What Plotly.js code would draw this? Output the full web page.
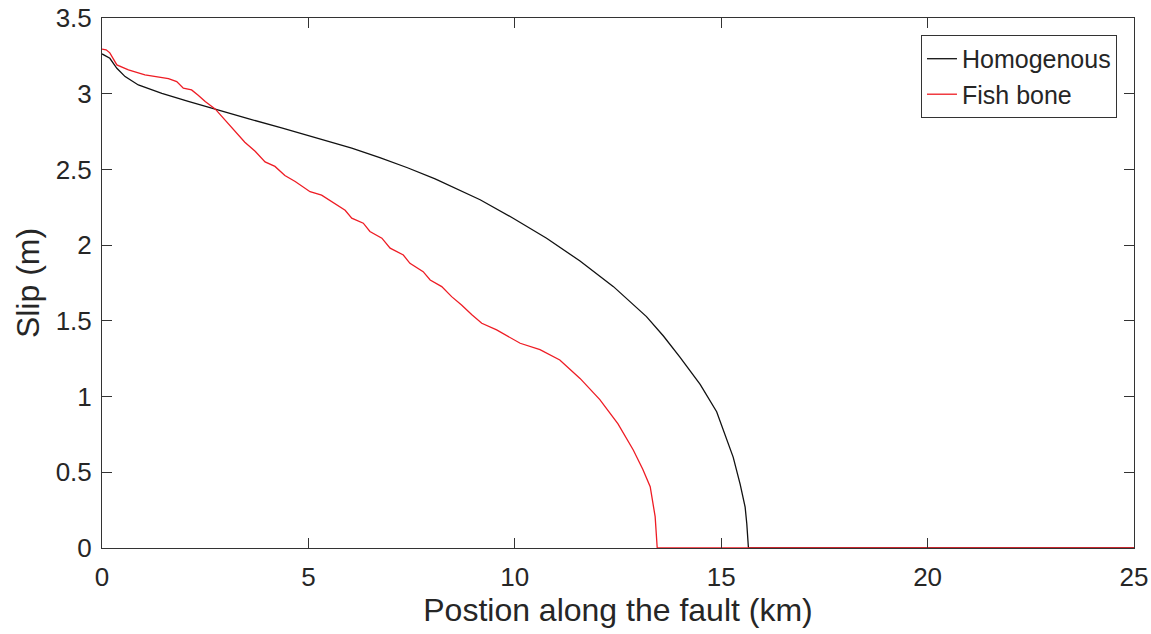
<!DOCTYPE html>
<html>
<head>
<meta charset="utf-8">
<script src="https://cdn.plot.ly/plotly-3.0.1.min.js"></script>
<style>html,body{margin:0;padding:0;background:#fff;}#chart{width:1151px;height:634px;}</style>
</head>
<body>
<div id="chart"></div>
<script>
// Homogenous fault slip
var homX = [0, 0.19, 0.36, 0.56, 0.88, 1.45, 2.09, 2.8, 3.54, 4.35, 5.16, 6.05, 6.73, 7.4, 8.07, 8.7, 9.16, 9.96, 10.77, 11.58, 12.39, 13.19, 13.6, 14.0, 14.49, 14.89, 15.29, 15.46, 15.58, 15.62, 15.66, 25];
var homY = [3.263, 3.234, 3.168, 3.113, 3.058, 3.003, 2.950, 2.893, 2.835, 2.775, 2.713, 2.641, 2.578, 2.511, 2.437, 2.36, 2.30, 2.178, 2.046, 1.895, 1.726, 1.528, 1.40, 1.26, 1.08, 0.90, 0.60, 0.42, 0.27, 0.16, 0, 0];
// Fish bone fault slip
var fishX = [0, 0.1, 0.19, 0.36, 0.64, 1.04, 1.61, 1.81, 1.97, 2.17, 2.33, 2.50, 2.74, 2.98, 3.22, 3.46, 3.71, 3.95, 4.19, 4.43, 4.68, 4.92, 5.04, 5.32, 5.56, 5.89, 6.05, 6.33, 6.49, 6.78, 6.98, 7.30, 7.46, 7.78, 7.95, 8.23, 8.47, 8.71, 8.96, 9.20, 9.56, 10.13, 10.61, 11.09, 11.58, 12.06, 12.5, 12.87, 13.1, 13.28, 13.40, 13.45, 25];
var fishY = [3.294, 3.29, 3.27, 3.19, 3.157, 3.124, 3.10, 3.08, 3.036, 3.025, 2.99, 2.948, 2.90, 2.827, 2.76, 2.68, 2.62, 2.55, 2.52, 2.46, 2.42, 2.376, 2.353, 2.33, 2.287, 2.23, 2.178, 2.145, 2.09, 2.046, 1.98, 1.935, 1.88, 1.825, 1.77, 1.726, 1.66, 1.605, 1.54, 1.484, 1.44, 1.352, 1.31, 1.242, 1.12, 0.98, 0.82, 0.647, 0.52, 0.405, 0.207, 0, 0];

var seriesNames = ['Homogenous', 'Fish bone'];
var xTicks = [0, 5, 10, 15, 20, 25];
var yTicks = [0, 0.5, 1, 1.5, 2, 2.5, 3, 3.5];
var yTickText = ['0', '0.5', '1', '1.5', '2', '2.5', '3', '3.5'];

var FONT = 'Liberation Sans, Arial, Helvetica, sans-serif';
var TXT = '#262626';

var traces = [
  {x: homX, y: homY, type: 'scatter', mode: 'lines', name: seriesNames[0],
   line: {color: '#111111', width: 1.3}},
  {x: fishX, y: fishY, type: 'scatter', mode: 'lines', name: seriesNames[1],
   line: {color: '#ee1c24', width: 1.3}}
];

var axisCommon = {
  showgrid: false, zeroline: false, showline: true, linecolor: '#333333', linewidth: 1,
  mirror: 'ticks', ticks: 'inside', ticklen: 10, tickwidth: 1, tickcolor: '#333333',
  tickfont: {family: FONT, size: 26, color: TXT}
};

var layout = {
  width: 1151, height: 634,
  margin: {l: 102, r: 17, t: 18, b: 86},
  paper_bgcolor: '#ffffff', plot_bgcolor: '#ffffff',
  showlegend: true,
  legend: {
    x: 0.9835, xanchor: 'right', y: 0.968, yanchor: 'top',
    bgcolor: '#ffffff', bordercolor: '#333333', borderwidth: 1,
    font: {family: FONT, size: 25, color: TXT},
    tracegroupgap: 0
  },
  xaxis: Object.assign({}, axisCommon, {
    range: [0, 25], tickvals: xTicks, ticktext: xTicks.map(String),
    ticklabelstandoff: 6,
    title: {text: 'Postion along the fault (km)', font: {family: FONT, size: 32, color: TXT}, standoff: 4}
  }),
  yaxis: Object.assign({}, axisCommon, {
    range: [0, 3.5], tickvals: yTicks, ticktext: yTickText,
    ticklabelstandoff: 4,
    title: {text: 'Slip (m)', font: {family: FONT, size: 32, color: TXT}, standoff: 6}
  })
};

Plotly.newPlot('chart', traces, layout, {staticPlot: true, displayModeBar: false});
</script>
</body>
</html>
